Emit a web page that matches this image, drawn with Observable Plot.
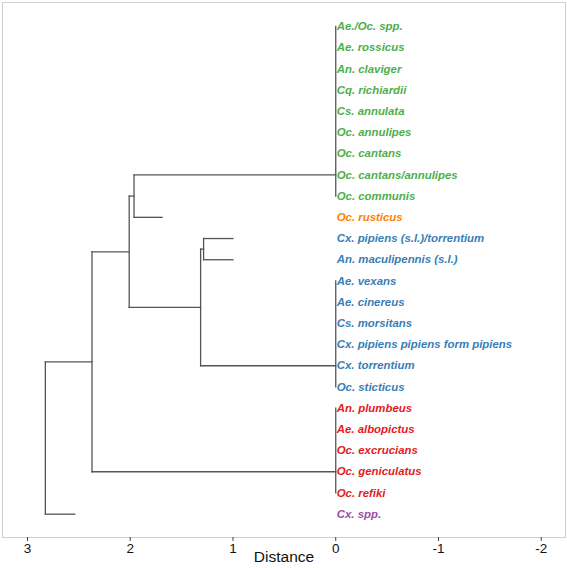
<!DOCTYPE html>
<html>
<head>
<meta charset="utf-8">
<script src="https://cdn.jsdelivr.net/npm/d3@7"></script>
<script src="https://cdn.jsdelivr.net/npm/@observablehq/plot@0.6"></script>
<style>
  html, body { margin: 0; padding: 0; background: #fff; }
  body { width: 567px; height: 568px; overflow: hidden; }
</style>
</head>
<body>
<div id="chart"></div>
<script>
// Leaves, top to bottom
const leafNames = [
  "Ae./Oc. spp.", "Ae. rossicus", "An. claviger", "Cq. richiardii", "Cs. annulata",
  "Oc. annulipes", "Oc. cantans", "Oc. cantans/annulipes", "Oc. communis",
  "Oc. rusticus",
  "Cx. pipiens (s.l.)/torrentium", "An. maculipennis (s.l.)",
  "Ae. vexans", "Ae. cinereus", "Cs. morsitans", "Cx. pipiens pipiens form pipiens",
  "Cx. torrentium", "Oc. sticticus",
  "An. plumbeus", "Ae. albopictus", "Oc. excrucians", "Oc. geniculatus", "Oc. refiki",
  "Cx. spp."
];
const leafGroups = [
  "g","g","g","g","g","g","g","g","g",
  "o",
  "b","b","b","b","b","b","b","b",
  "r","r","r","r","r",
  "p"
];
const groupKeys = ["g", "o", "b", "r", "p"];
const groupColors = ["#4DAF4A", "#FF7F00", "#377EB8", "#E41A1C", "#984EA3"];

// Flat clusters of leaves at distance 0 (first leaf, last leaf, leaf the branch attaches to)
const clusterIds = ["G1", "G2", "G3"];
const clusterFirst = [1, 13, 19];
const clusterLast = [9, 18, 23];
const clusterAnchor = [8, 17, 22];

// Single leaves whose branch ends at a non-zero distance
const tipIds = ["L10", "L11", "L12", "L24"];
const tipLeaf = [10, 11, 12, 24];
const tipHeight = [1.69, 1.0, 1.0, 2.54];

// Internal nodes (merge heights) and their two children
const nodeIds = ["A", "D", "C", "B", "E", "R"];
const nodeHeight = [1.963, 1.286, 1.315, 2.01, 2.372, 2.826];
const nodeChildren = [["G1", "L10"], ["L11", "L12"], ["D", "G2"], ["A", "C"], ["B", "G3"], ["E", "L24"]];

const xTicks = [3, 2, 1, 0, -1, -2];

// ---- build segments ----
const pos = new Map(); // id -> {x, y}
const segs = [];
clusterIds.forEach((id, i) => {
  pos.set(id, {x: 0, y: clusterAnchor[i]});
  segs.push({x1: 0, y1: clusterFirst[i], x2: 0, y2: clusterLast[i]});
});
tipIds.forEach((id, i) => pos.set(id, {x: tipHeight[i], y: tipLeaf[i]}));
nodeIds.forEach((id, i) => {
  const h = nodeHeight[i];
  const kids = nodeChildren[i].map(k => pos.get(k));
  const ys = kids.map(k => k.y);
  segs.push({x1: h, y1: Math.min(...ys), x2: h, y2: Math.max(...ys)});
  kids.forEach(k => segs.push({x1: h, y1: k.y, x2: k.x, y2: k.y}));
  pos.set(id, {x: h, y: (ys[0] + ys[1]) / 2});
});

const labels = leafNames.map((name, i) => ({name, y: i + 1, g: leafGroups[i]}));

const font = "'Liberation Sans', Arial, Helvetica, sans-serif";

const chart = Plot.plot({
  width: 567,
  height: 568,
  marginLeft: 2,
  marginRight: 2,
  marginTop: 2,
  marginBottom: 31,
  style: {fontFamily: font, background: "#fff"},
  x: {domain: [3.243, -2.236], ticks: xTicks},
  y: {domain: [-0.132, 25.1], reverse: true, axis: null},
  color: {domain: groupKeys, range: groupColors},
  marks: [
    Plot.frame({stroke: "#cfcfcf", strokeWidth: 1}),
    Plot.axisX(xTicks, {
      tickSize: 4, tickPadding: 2, fontSize: 13.5, stroke: "#444",
      label: null, color: "#111", tickFormat: d => String(d)
    }),
    Plot.text(["Distance"], {
      frameAnchor: "bottom", dy: 24, fontSize: 15.5, fill: "#111"
    }),
    Plot.link(segs, {
      x1: "x1", y1: "y1", x2: "x2", y2: "y2",
      stroke: "#555", strokeWidth: 1.3, strokeLinecap: "square"
    }),
    Plot.text(labels, {
      x: 0, y: "y", text: "name", fill: "g",
      textAnchor: "start", dx: 1,
      fontSize: 11.4, fontWeight: "bold", fontStyle: "italic"
    })
  ]
});
document.getElementById("chart").append(chart);
</script>
</body>
</html>
